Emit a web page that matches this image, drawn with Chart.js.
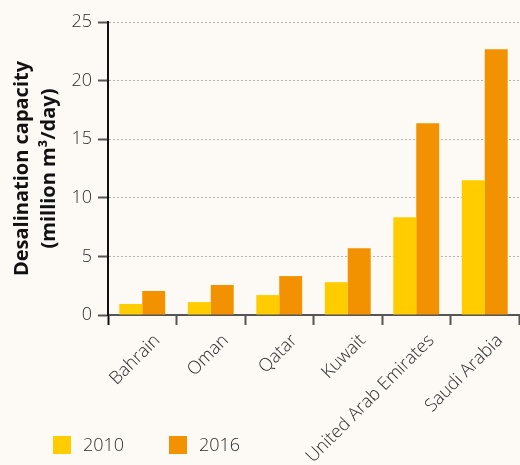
<!DOCTYPE html>
<html>
<head>
<meta charset="utf-8">
<script src="https://cdn.jsdelivr.net/npm/chart.js@4"></script>
<style>
  html, body { margin: 0; padding: 0; background: #fdf9f4; }
  #wrap { width: 520px; height: 465px; position: relative; }
</style>
</head>
<body>
<div id="wrap"><canvas id="c"></canvas></div>
<script>
// Desalination capacity by country, million m³/day
const countries = ['Bahrain', 'Oman', 'Qatar', 'Kuwait', 'United Arab Emirates', 'Saudi Arabia'];
const years = ['2010', '2016'];
const capacity2010 = [0.94, 1.1, 1.7, 2.8, 8.35, 11.5];
const capacity2016 = [2.05, 2.56, 3.32, 5.7, 16.37, 22.68];
const yTicks = [0, 5, 10, 15, 20, 25];

const YELLOW = '#ffcc00';
const ORANGE = '#f39200';
const FONT = "'Open Sans', 'Noto Sans', sans-serif";

// Legend drawn as squares with labels below the plot
const bottomLegend = {
  id: 'bottomLegend',
  afterDraw(chart) {
    const ctx = chart.ctx;
    const xs = [53, 169];
    ctx.save();
    chart.data.datasets.forEach((ds, i) => {
      ctx.fillStyle = ds.backgroundColor;
      ctx.fillRect(xs[i], 436, 18, 18);
      ctx.fillStyle = '#2e2e2e';
      ctx.font = '300 18px ' + FONT;
      ctx.textBaseline = 'middle';
      ctx.textAlign = 'left';
      ctx.fillText(ds.label, xs[i] + 30, 446);
    });
    ctx.restore();
  }
};

new Chart(document.getElementById('c'), {
  type: 'bar',
  data: {
    labels: countries,
    datasets: [
      { label: years[0], data: capacity2010, backgroundColor: YELLOW },
      { label: years[1], data: capacity2016, backgroundColor: ORANGE }
    ]
  },
  options: {
    responsive: true,
    maintainAspectRatio: false,
    animation: false,
    devicePixelRatio: 1,
    layout: { padding: { top: 22, right: 1, left: 0, bottom: 0 } },
    datasets: {
      bar: { categoryPercentage: 0.67, barPercentage: 1.0, borderWidth: 0 }
    },
    plugins: {
      legend: { display: false },
      tooltip: { enabled: false }
    },
    scales: {
      x: {
        grid: {
          display: true,
          drawOnChartArea: false,
          drawTicks: true,
          tickLength: 10,
          tickColor: (ctx) => ctx.index === 0 ? '#111' : '#555',
          tickWidth: 2,
          offset: true
        },
        border: { display: true, color: '#555', width: 2 },
        ticks: {
          color: '#2e2e2e',
          font: { family: FONT, size: 18, weight: 300 },
          maxRotation: 45,
          minRotation: 45,
          autoSkip: false,
          labelOffset: 15,
          padding: 5
        },
        afterFit(scale) { scale.height = 150; }
      },
      y: {
        min: 0,
        max: 25,
        afterBuildTicks(scale) { scale.ticks = yTicks.map(v => ({ value: v })); },
        grid: {
          color: (ctx) => ctx.tick && ctx.tick.value === 0 ? 'rgba(0,0,0,0)' : '#b5b2ad',
          lineWidth: 1,
          tickLength: 10,
          tickColor: '#555',
          tickWidth: 2
        },
        border: { display: true, color: '#111', width: 2, dash: [2, 2] },
        ticks: {
          color: '#2e2e2e',
          font: { family: FONT, size: 18, weight: 300 },
          padding: 6
        },
        title: {
          display: true,
          text: ['Desalination capacity', '(million m³/day)'],
          color: '#111',
          font: { family: FONT, size: 20, weight: 'bold', lineHeight: 1.35 },
          padding: { top: 9, bottom: 0 }
        },
        afterFit(scale) { scale.width = 108; }
      }
    }
  },
  plugins: [bottomLegend]
});
</script>
</body>
</html>
